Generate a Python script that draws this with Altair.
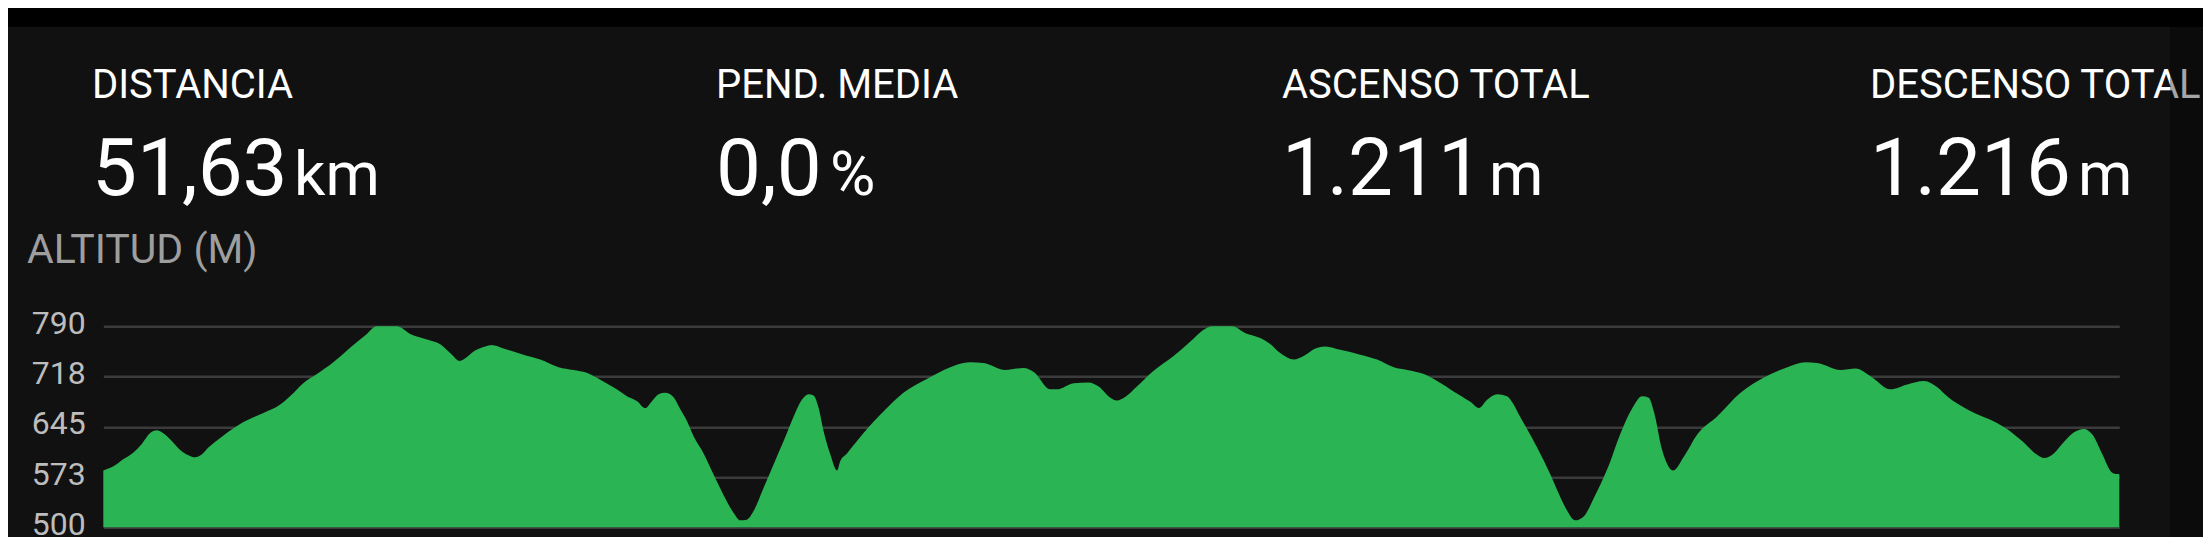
import altair as alt
import pandas as pd

# ---- data ----
dist_km = [0.00, 0.26, 0.51, 0.77, 0.98, 1.20, 1.37, 1.50, 1.71, 1.96, 2.18, 2.35, 2.52, 2.69, 2.86,
           3.16, 3.59, 4.10, 4.53, 4.78, 5.12, 5.47, 5.89, 6.32, 6.75, 7.00, 7.35, 7.52, 7.86, 8.29,
           8.63, 8.93, 9.12, 9.27, 9.52, 9.78, 9.95, 10.25, 10.76, 11.19, 11.66, 12.04, 12.38, 12.73,
           13.15, 13.41, 13.67, 13.88, 14.05, 14.22, 14.39, 14.60, 14.77, 14.95, 15.12, 15.37, 15.63,
           15.88, 16.14, 16.31, 16.48, 16.65, 16.91, 17.16, 17.42, 17.68, 17.89, 18.06, 18.19, 18.32,
           18.45, 18.62, 18.79, 18.87, 19.05, 19.47, 19.98, 20.49, 21.09, 21.69, 22.03, 22.20, 22.54,
           23.10, 23.57, 23.83, 24.25, 24.42, 24.85, 25.23, 25.49, 25.79, 25.96, 26.17, 26.47, 26.86,
           27.41, 27.84, 28.18, 28.40, 28.91, 29.25, 29.63, 29.85, 30.15, 30.49, 30.74, 31.04, 31.30,
           31.68, 32.19, 32.62, 33.05, 33.39, 33.82, 34.16, 34.58, 35.01, 35.23, 35.44, 35.70, 35.95,
           36.12, 36.25, 36.42, 36.72, 37.06, 37.23, 37.45, 37.70, 37.92, 38.17, 38.56, 38.86, 39.16,
           39.41, 39.58, 39.71, 39.92, 40.21, 40.48, 40.82, 41.33, 41.93, 42.53, 43.13, 43.59, 43.89,
           44.49, 44.88, 45.26, 45.77, 46.20, 46.63, 46.97, 47.22, 47.74, 48.51, 48.85, 49.15, 49.49,
           49.70, 49.96, 50.21, 50.47, 50.72, 50.94, 51.20, 51.41, 51.54, 51.63]
altitude_m = [582, 588, 598, 608, 620, 636, 640, 637, 627, 612, 604, 601, 605, 615, 623,
              636, 652, 665, 677, 689, 708, 721, 738, 759, 779, 790, 790, 790, 779, 771,
              764, 749, 740, 744, 755, 761, 763, 758, 749, 742, 731, 727, 723, 713,
              699, 689, 682, 672, 682, 692, 694, 688, 671, 653, 631, 607, 576,
              547, 521, 510, 511, 523, 557, 590, 624, 660, 684, 692, 690, 672,
              638, 605, 582, 595, 607, 636, 667, 694, 714, 731, 737, 738, 737,
              727, 730, 724, 699, 699, 708, 709, 703, 687, 683, 688, 703, 724,
              747, 768, 785, 790, 790, 780, 773, 766, 751, 742, 747, 758, 761,
              756, 749, 742, 731, 727, 721, 711, 696, 681, 672, 684, 692, 689,
              677, 663, 646, 615, 576, 554, 528, 510, 516, 542, 590, 636, 672,
              689, 687, 667, 612, 582, 602, 634, 660, 694, 716, 731, 738, 737,
              727, 729, 718, 699, 706, 711, 702, 689, 670, 650, 638, 624, 606,
              600, 607, 623, 637, 642, 634, 605, 581, 577, 577]

y_ticks = [500, 572.5, 645, 717.5, 790]

stat_labels = ["DISTANCIA", "PEND. MEDIA", "ASCENSO TOTAL", "DESCENSO TOTAL"]
stat_values = ["51,63", "0,0", "1.211", "1.216"]
stat_units = ["km", "%", "m", "m"]
section_title = "ALTITUD (M)"

# ---- layout (pixels, relative to plot area) ----
PLOT_W, PLOT_H = 2016, 201
col_x = [-11.3, 612.7, 1178.7, 1766.7]
unit_x = [190.7, 726.7, 1385.7, 1974.7]
LABEL_Y = -228.3
VALUE_Y = -131.3
FONT = "Roboto"
BG = "#111111"
GREEN = "#2ab453"

profile = pd.DataFrame({"km": dist_km, "alt": altitude_m})

area = alt.Chart(profile).mark_area(color=GREEN, interpolate="monotone").encode(
    x=alt.X("km:Q", scale=alt.Scale(domain=[0, 51.63], nice=False, zero=False), axis=None),
    y=alt.Y("alt:Q",
            scale=alt.Scale(domain=[500, 790], nice=False, zero=False),
            axis=alt.Axis(values=y_ticks, format=".0f", title=None, ticks=False, domain=False,
                          grid=True, gridColor="#3b3b3b", gridWidth=2.6, gridOpacity=1,
                          labelFont=FONT, labelFontSize=32, labelColor="#bdbdbd",
                          labelPadding=18, labelBaseline="middle", labelOffset=-3)),
    y2=alt.datum(500),
)

layers = [area]

one = pd.DataFrame({"k": [0]})

# top black bar
layers.append(alt.Chart(one).mark_rect(color="#000000").encode(
    x=alt.value(-96), x2=alt.value(2100), y=alt.value(-319), y2=alt.value(-299.3)))

for i in range(len(stat_labels)):
    layers.append(alt.Chart(pd.DataFrame({"t": [stat_labels[i]]})).mark_text(
        font=FONT, fontSize=40, color="#ffffff", align="left", baseline="alphabetic").encode(
        x=alt.value(col_x[i]), y=alt.value(LABEL_Y), text="t:N"))
    layers.append(alt.Chart(pd.DataFrame({"t": [stat_values[i]]})).mark_text(
        font=FONT, fontSize=80, color="#ffffff", align="left", baseline="alphabetic").encode(
        x=alt.value(col_x[i]), y=alt.value(VALUE_Y), text="t:N"))
    layers.append(alt.Chart(pd.DataFrame({"t": [stat_units[i]]})).mark_text(
        font=FONT, fontSize=62, color="#ffffff", align="left", baseline="alphabetic").encode(
        x=alt.value(unit_x[i]), y=alt.value(VALUE_Y), text="t:N"))

layers.append(alt.Chart(pd.DataFrame({"t": [section_title]})).mark_text(
    font=FONT, fontSize=41, color="#9e9e9e", align="left", baseline="alphabetic").encode(
    x=alt.value(-76.3), y=alt.value(-63), text="t:N"))

# darker strip on the right edge
layers.append(alt.Chart(one).mark_rect(color="#000000", opacity=0.35).encode(
    x=alt.value(2066.7), x2=alt.value(2100), y=alt.value(-319), y2=alt.value(230)))

chart = alt.layer(*layers).properties(
    width=PLOT_W, height=PLOT_H,
    autosize=alt.AutoSizeParams(type="none"),
    padding={"left": 95.3, "top": 318.3, "right": 83.7, "bottom": 9.5},
    background=BG,
).configure_view(stroke=None, fill=BG)

chart.save("out.html", embed_options={"renderer": "svg", "actions": False})
